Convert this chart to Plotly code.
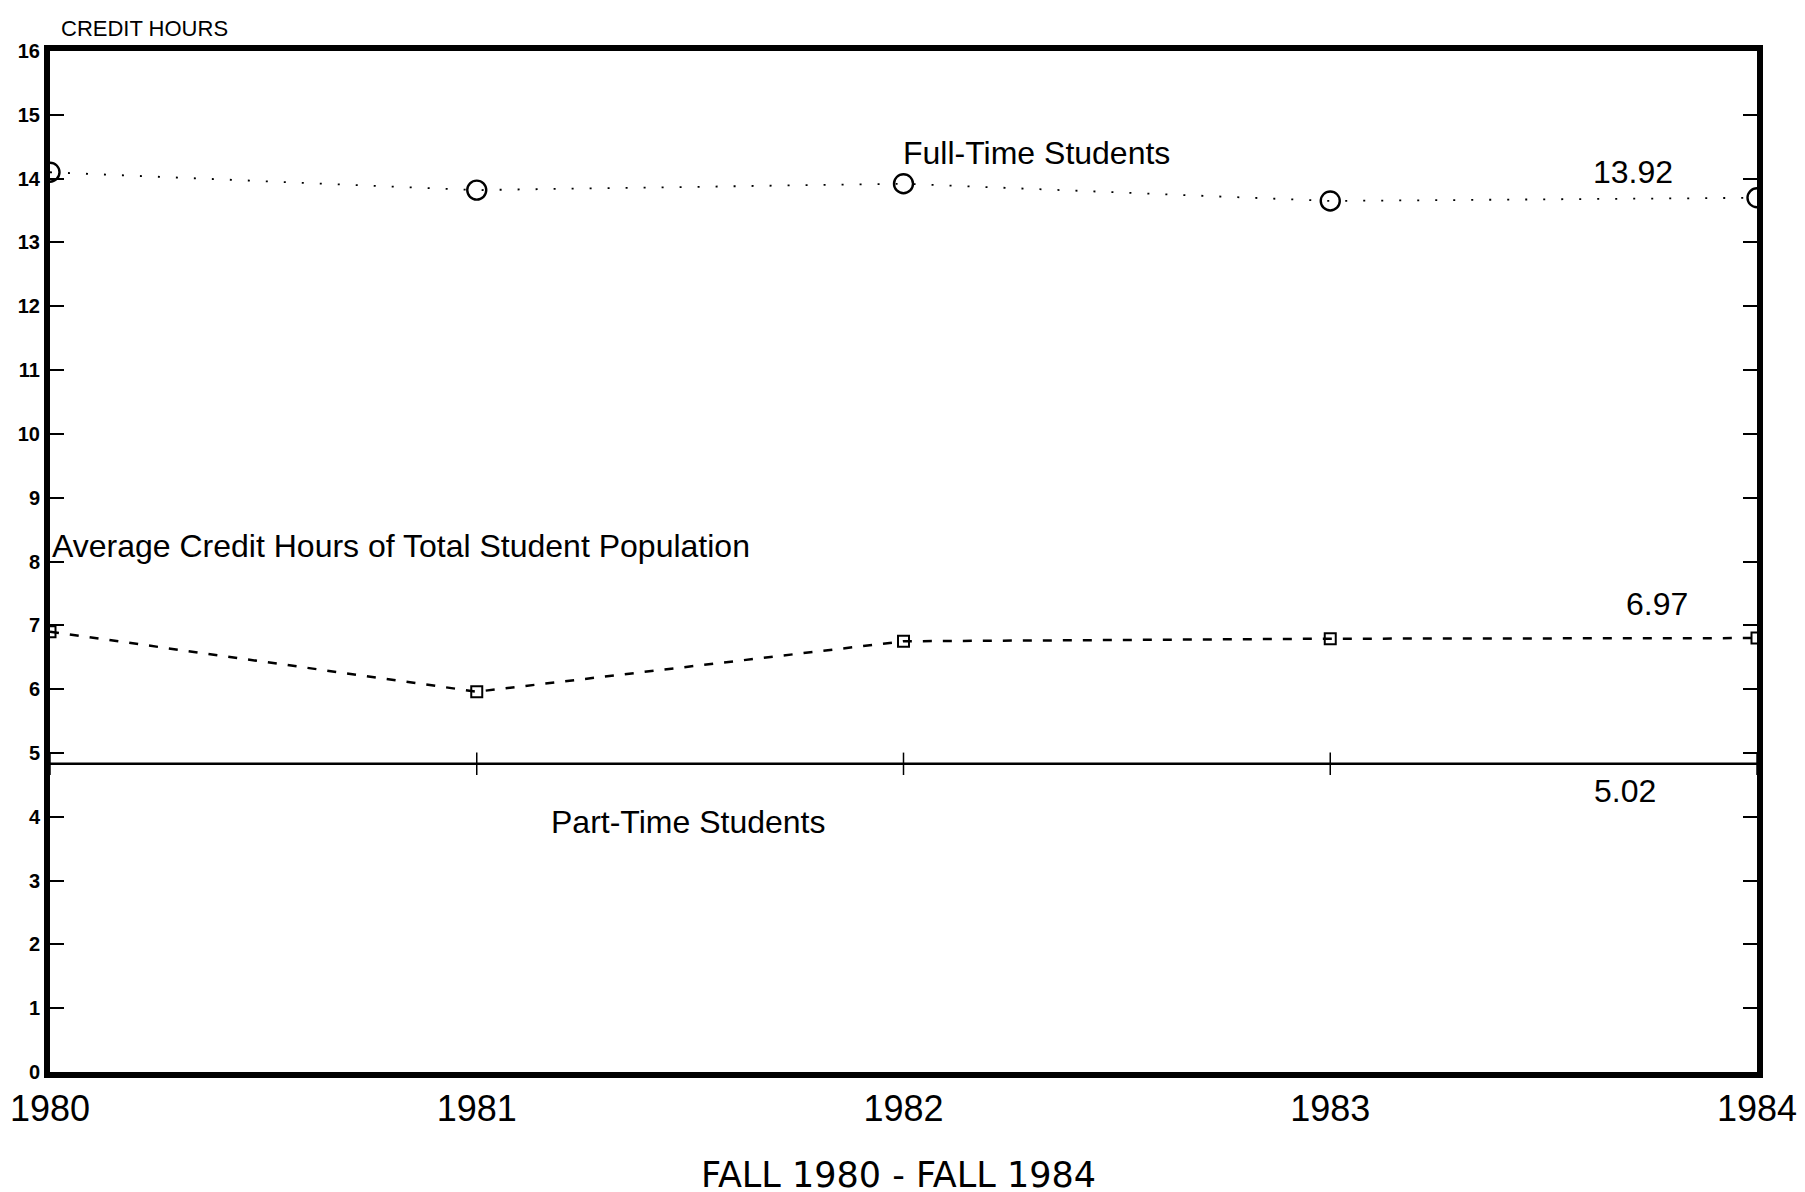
import plotly.graph_objects as go

years = [1980, 1981, 1982, 1983, 1984]
full_time = [14.1, 13.82, 13.92, 13.65, 13.7]
average_total = [6.9, 5.96, 6.75, 6.79, 6.8]
part_time = [4.83, 4.83, 4.83, 4.83, 4.83]

y_ticks = list(range(0, 17))
x_ticks = years

FONT = "Liberation Sans, Arial, sans-serif"

fig = go.Figure()

fig.add_trace(go.Scatter(
    x=years, y=part_time, mode="lines+markers",
    line=dict(color="black", width=2.5),
    marker=dict(symbol="line-ns", size=16, line=dict(color="black", width=1.5)),
    showlegend=False))

fig.add_trace(go.Scatter(
    x=years, y=average_total, mode="lines+markers",
    line=dict(color="black", width=2.5, dash="9px,11px"),
    marker=dict(symbol="square-open", size=11, color="black", line=dict(color="black", width=2)),
    showlegend=False))

fig.add_trace(go.Scatter(
    x=years, y=full_time, mode="lines+markers",
    line=dict(color="black", width=1.8, dash="2px,16px"),
    marker=dict(symbol="circle-open", size=19, color="black", line=dict(color="black", width=2.4)),
    showlegend=False))

txt = dict(family=FONT, size=32, color="black")
annos = [
    dict(x=1981.993, y=14.4, text="Full-Time Students", xanchor="left"),
    dict(x=1983.71, y=14.1, text="13.92", xanchor="center"),
    dict(x=1980.001, y=8.25, text="Average Credit Hours of Total Student Population", xanchor="left"),
    dict(x=1983.766, y=7.33, text="6.97", xanchor="center"),
    dict(x=1981.494, y=3.92, text="Part-Time Students", xanchor="center"),
    dict(x=1983.69, y=4.4, text="5.02", xanchor="center"),
]
for a in annos:
    fig.add_annotation(x=a["x"], y=a["y"], text=a["text"], xanchor=a["xanchor"],
                       yanchor="middle", showarrow=False, font=txt)

fig.add_annotation(xref="paper", yref="paper", x=0.005, y=1.0, yshift=8,
                   text="CREDIT HOURS", showarrow=False, xanchor="left", yanchor="bottom",
                   font=dict(family=FONT, size=22, color="black"))
fig.add_annotation(xref="paper", yref="paper", x=0.497, y=0, yshift=-103,
                   text="FALL 1980 - FALL 1984", showarrow=False, xanchor="center", yanchor="middle",
                   font=dict(family="DejaVu Sans, sans-serif", size=35, color="black"))

fig.update_xaxes(range=[1980, 1984], tickvals=x_ticks, ticktext=[str(v) for v in x_ticks],
                 showgrid=False, zeroline=False, showline=True, linecolor="black", linewidth=6,
                 mirror=True, ticks="", automargin=False, ticklabeloverflow="allow",
                 tickfont=dict(family=FONT, size=36, color="black"))
fig.update_yaxes(range=[0, 16], tickvals=y_ticks, ticktext=["<b>%d</b>" % v for v in y_ticks],
                 showgrid=False, zeroline=False, showline=True, linecolor="black", linewidth=6,
                 mirror="allticks", ticks="inside", ticklen=14, tickwidth=2, tickcolor="black",
                 automargin=False, tickfont=dict(family=FONT, size=20, color="black"))

fig.update_layout(width=1805, height=1192, plot_bgcolor="white", paper_bgcolor="white",
                  margin=dict(l=42, r=56, t=43, b=128, autoexpand=False))

fig.write_html("out.html")
